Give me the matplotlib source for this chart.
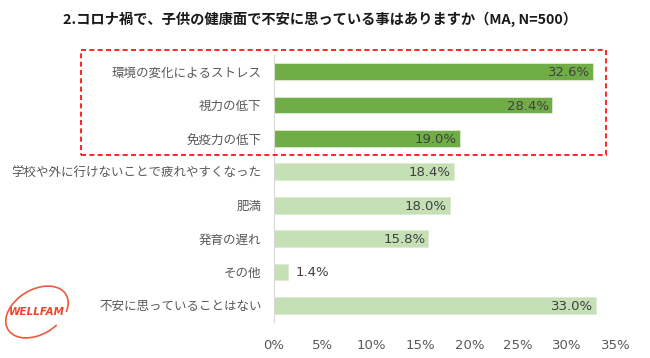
import matplotlib.pyplot as plt
from matplotlib.patches import Rectangle, Arc

plt.rcParams['font.family'] = ['Noto Sans CJK JP', 'DejaVu Sans']

categories = ["環境の変化によるストレス", "視力の低下", "免疫力の低下",
              "学校や外に行けないことで疲れやすくなった", "肥満", "発育の遅れ",
              "その他", "不安に思っていることはない"]
values = [32.6, 28.4, 19.0, 18.4, 18.0, 15.8, 1.4, 33.0]
highlight = [True, True, True, False, False, False, False, False]
xticks = [0, 5, 10, 15, 20, 25, 30, 35]

fig = plt.figure(figsize=(6.5, 3.58), dpi=100)
ax = fig.add_axes([274 / 650, 36 / 358, 342 / 650, 267 / 358])

colors = ["#70AD47" if h else "#C5E0B4" for h in highlight]
ypos = list(range(len(categories)))
ax.barh(ypos, values, height=0.5, color=colors, edgecolor="#DDEBD3", linewidth=0.6)
ax.set_xlim(0, 35)
ax.set_ylim(len(categories) - 0.5, -0.5)

for y, v in zip(ypos, values):
    txt = f"{v:.1f}%"
    if v > 5:
        ax.text(v - 0.3, y + 0.03, txt, ha="right", va="center", fontsize=9.5,
                color="#404040", family="DejaVu Sans")
    else:
        ax.text(v + 0.8, y + 0.03, txt, ha="left", va="center", fontsize=9.5,
                color="#404040", family="DejaVu Sans")

ax.set_yticks(ypos)
ax.set_yticklabels(categories, fontsize=9, color="#595959")
ax.set_xticks(xticks)
ax.set_xticklabels([f"{t}%" for t in xticks], fontsize=9.5, color="#595959",
                   family="DejaVu Sans")
ax.tick_params(axis="y", length=0, pad=9)
ax.tick_params(axis="x", length=0, pad=12)
for s in ["top", "right", "bottom"]:
    ax.spines[s].set_visible(False)
ax.spines["left"].set_color("#D9D9D9")

fig.text(320 / 650, 1 - 19 / 358, "2.コロナ禍で、子供の健康面で不安に思っている事はありますか（MA, N=500）",
         ha="center", va="center", fontsize=10.3, fontweight="bold", color="#1a1a1a")

# red dashed box around top three
fig.patches.append(Rectangle((81 / 650, 1 - 155 / 358), 525 / 650, 105 / 358,
                             transform=fig.transFigure, fill=False,
                             edgecolor="#FF0000", linestyle=(0, (3, 2)), linewidth=1.2))

# logo
fig.patches.append(Arc((37 / 650, 1 - 312 / 358), 56 / 650, 54 / 358, angle=-20,
                       theta1=20, theta2=330, transform=fig.transFigure,
                       color="#EE5A3C", linewidth=1.2))
fig.text(37 / 650, 1 - 312 / 358, "WELLFAM", ha="center", va="center", fontsize=7.5,
         fontstyle="italic", fontweight="bold", color="#E8472A", family="DejaVu Sans")

fig.savefig("out.png", dpi=100)
